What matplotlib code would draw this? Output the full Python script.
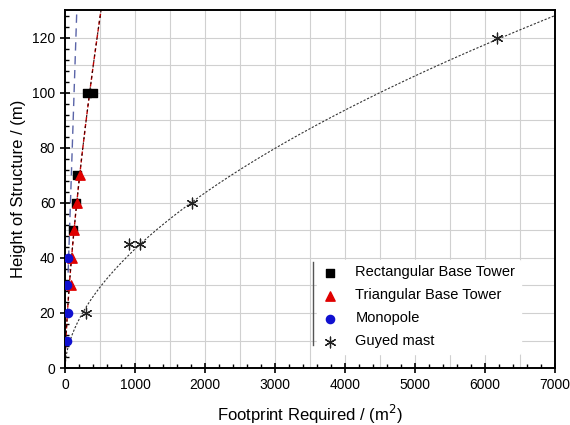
import numpy as np
import matplotlib
matplotlib.use('Agg')
import matplotlib.pyplot as plt
from matplotlib.ticker import MultipleLocator

plt.rcParams['font.family'] = ['Liberation Sans', 'DejaVu Sans']

# data
rect_x = [120, 157, 167, 310, 400]
rect_y = [50, 60, 70, 100, 100]
tri_x = [80, 105, 130, 167, 214]
tri_y = [30, 40, 50, 60, 70]
mono_x = [33, 48, 33, 48]
mono_y = [10, 20, 30, 40]
guy_x = [295, 920, 1070, 1810, 6170]
guy_y = [20, 45, 45, 60, 120]

# trend lines (power law y = a * x^b), coefficients
tower_fit = (1.75, 0.69)
mono_fit = (0.77, 1.0)
guy_fit = (0.916, 0.558)

fig = plt.figure(figsize=(5.7, 4.25), dpi=100)
ax = fig.add_axes([0.114, 0.134, 0.86, 0.842])

# grid
for gx in np.arange(500, 7000, 500):
    ax.axvline(gx, color='#d0d0d0', lw=0.8, zorder=0)
for gy in np.arange(10, 130, 10):
    ax.axhline(gy, color='#d0d0d0', lw=0.8, zorder=0)

# fitted curves
xg = np.linspace(1, 7000, 400)
ax.plot(xg, guy_fit[0] * xg ** guy_fit[1], color='#333333', ls=(0, (2, 1.5)), lw=0.8, zorder=2)

xt = np.linspace(1, 600, 300)
ax.plot(xt, tower_fit[0] * xt ** tower_fit[1], color='#c00000', ls=(0, (3, 2)), lw=1.0, zorder=2)
ax.plot(xt, tower_fit[0] * xt ** tower_fit[1], color='#300000', ls=(2.5, (2, 3)), lw=0.8, zorder=2)

xm = np.linspace(45, 200, 100)
ax.plot(xm, mono_fit[0] * xm ** mono_fit[1], color='#5a64a8', ls=(0, (6, 4)), lw=1.0, zorder=2)

# markers
ax.scatter(rect_x, rect_y, marker='s', s=40, color='black', zorder=3, label='Rectangular Base Tower')
ax.scatter(tri_x, tri_y, marker='^', s=45, color='#e00000', zorder=4, label='Triangular Base Tower')
ax.scatter(mono_x, mono_y, marker='o', s=35, color='#1010d0', zorder=4, label='Monopole')
ax.scatter(guy_x, guy_y, marker=(6, 2, 0), s=60, color='#222222', linewidths=0.9, zorder=4, label='Guyed mast')

ax.set_xlim(0, 7000)
ax.set_ylim(0, 130)
ax.xaxis.set_major_locator(MultipleLocator(1000))
ax.xaxis.set_minor_locator(MultipleLocator(200))
ax.yaxis.set_major_locator(MultipleLocator(20))
ax.yaxis.set_minor_locator(MultipleLocator(4))
ax.tick_params(which='major', direction='inout', length=7, width=1.2, labelsize=10)
ax.tick_params(which='minor', direction='in', length=3, width=1.0)
for sp in ax.spines.values():
    sp.set_linewidth(1.4)

ax.set_xlabel('Footprint Required / (m$^2$)', fontsize=12, labelpad=8)
ax.set_ylabel('Height of Structure / (m)', fontsize=12)

leg = ax.legend(loc='lower left', bbox_to_anchor=(0.5, 0.018), fontsize=10.5, frameon=True,
                handletextpad=1.2, borderpad=0.4, labelspacing=0.62, handlelength=1.0)
leg.get_frame().set_edgecolor('white')
leg.get_frame().set_facecolor('white')
leg.get_frame().set_alpha(1)
ax.plot([0.505, 0.505], [0.064, 0.296], transform=ax.transAxes, color='#555555', lw=1.0, zorder=6)

fig.savefig('out.png', dpi=100)
